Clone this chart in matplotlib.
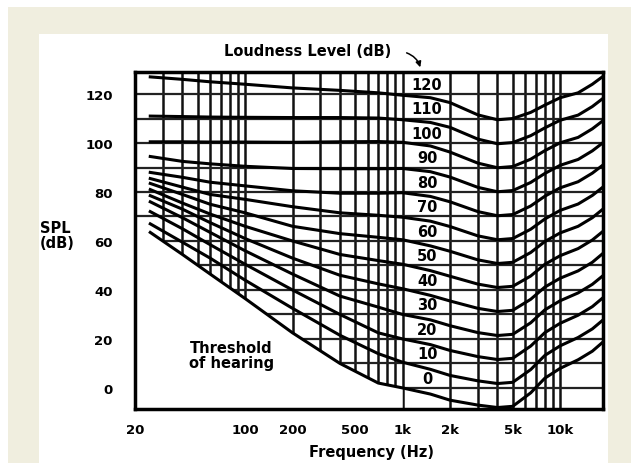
import matplotlib
matplotlib.use("Agg")
from matplotlib import pylab as plt
from matplotlib.patches import Rectangle, Polygon

plt.rcParams['font.family'] = 'DejaVu Sans'
plt.rcParams['font.weight'] = 'bold'

# equal loudness contours, SPL (dB) at each frequency (Hz)
freqs = [25, 40, 60, 100, 200, 400, 700, 1000, 1500, 2000, 3000, 4000, 5000,
         6500, 8000, 10000, 13000, 16000, 18500]

phon_0 = [63.5, 54.5, 46.5, 36.5, 22.5, 10, 2, 0, -2.5, -5, -7, -8, -7.5, -2, 4, 8, 11.5, 15, 18.5]
phon_10 = [67, 59.5, 53, 44, 32.5, 21.5, 14, 10.5, 7.6, 5.1, 2.9, 1.8, 2.3, 7.5, 13.3, 17.2, 20.6, 24.1, 27.5]
phon_20 = [72, 65, 58.5, 50.5, 40, 30, 22.5, 20, 17.7, 15.3, 12.8, 11.6, 12.1, 17.1, 22.6, 26.4, 29.7, 33.2, 36.6]
phon_30 = [76, 69.5, 63.5, 56, 46.5, 37.5, 33, 30, 27.8, 25.4, 22.6, 21.4, 21.9, 26.6, 31.9, 35.6, 38.8, 42.3, 45.6]
phon_40 = [78.5, 73, 67.5, 61, 53, 46, 42.5, 40.5, 37.8, 35.5, 32.5, 31.2, 31.7, 36.2, 41.2, 44.8, 47.8, 51.3, 54.7]
phon_50 = [81, 75.5, 71, 66, 60, 54.5, 52, 50.5, 47.9, 45.6, 42.4, 41, 41.5, 45.7, 50.5, 54, 56.9, 60.4, 63.7]
phon_60 = [83.5, 79, 75, 71.5, 66, 63, 61.5, 60.5, 58, 55.8, 52.3, 50.8, 51.3, 55.3, 59.8, 63.3, 66, 69.5, 72.8]
phon_70 = [85.5, 82, 79, 77, 74, 71.5, 70.5, 69.7, 68.1, 65.9, 62.1, 60.5, 61, 64.8, 69, 72.5, 75.1, 78.6, 81.8]
phon_80 = [88, 86, 84, 82.5, 80.5, 79.5, 79.5, 79.7, 78.2, 76, 72, 70.3, 70.8, 74.3, 78.3, 81.7, 84.2, 87.7, 90.8]
phon_90 = [94.5, 92.5, 91.5, 90.5, 89.6, 89.5, 89.5, 89.6, 88.3, 86.1, 81.9, 80.1, 80.6, 83.9, 87.6, 90.9, 93.3, 96.8, 99.9]
phon_100 = [100.5, 100.5, 100.4, 100.4, 100.3, 100.5, 100.6, 100.3, 98.8, 96.3, 91.8, 89.9, 90.4, 93.4, 96.9, 100.1, 102.3, 105.8, 108.9]
phon_110 = [111, 110.8, 110.6, 110.5, 110.4, 110.4, 110.2, 109.5, 108.4, 106.4, 101.6, 99.7, 100.2, 103, 106.2, 109.3, 111.4, 114.9, 118]
phon_120 = [127, 126, 125, 124, 122.5, 121.5, 120.5, 119.5, 118.5, 116.5, 111.5, 109.5, 110, 112.5, 115.5, 118.5, 120.5, 124, 127]

levels = [0, 10, 20, 30, 40, 50, 60, 70, 80, 90, 100, 110, 120]
contours = [phon_0, phon_10, phon_20, phon_30, phon_40, phon_50, phon_60,
            phon_70, phon_80, phon_90, phon_100, phon_110, phon_120]

x_ticks = [20, 100, 200, 500, 1000, 2000, 5000, 10000]
x_labels = ['20', '100', '200', '500', '1k', '2k', '5k', '10k']
y_ticks = [0, 20, 40, 60, 80, 100, 120]

W, H = 631, 464
fmin, fmax = 20, 18700
ymin, ymax = -8.6, 129

fig = plt.figure(figsize=(W / 100, H / 100), dpi=100, facecolor='white')

# beige frame with a white card on top
fig.add_artist(Rectangle((8 / W, 0), 1 - 8 / W, (H - 8) / H, transform=fig.transFigure,
                         facecolor='#f0eedf', edgecolor='none', zorder=0))
fig.add_artist(Rectangle((39 / W, 0), (608 - 39) / W, (H - 35) / H, transform=fig.transFigure,
                         facecolor='white', edgecolor='none', zorder=0))

ax = fig.add_axes([135 / W, 1 - 410 / H, (603 - 135) / W, (410 - 73) / H])
ax.set_facecolor('white')
ax.set_xscale('log')
ax.set_xlim(fmin, fmax)
ax.set_ylim(ymin, ymax)

# graph paper only above the threshold curve (up to 1 kHz), full below that on the right
low = [(f, v) for f, v in zip(freqs, phon_0) if f <= 1000]
outline = [(fmin, ymax), (fmin, 66)] + low + [(1000, ymin), (fmax, ymin), (fmax, ymax)]
paper = Polygon(outline, closed=True, transform=ax.transData, facecolor='none', edgecolor='none')
ax.add_patch(paper)

grid_f = [m * 10 ** e for e in (1, 2, 3, 4) for m in range(1, 10)]
grid_f = [f for f in grid_f if fmin < f < fmax]
vl = ax.vlines(grid_f, ymin, ymax, color='#111111', lw=1.8, zorder=1)
hl = ax.hlines(range(0, 121, 10), fmin, fmax, color='#222222', lw=1.6, zorder=1)
vl.set_clip_path(paper)
hl.set_clip_path(paper)

for lev, spl in zip(levels, contours):
    ax.plot(freqs, spl, color='black', lw=2.2, zorder=3)
    ax.text(1430, lev + 4, str(lev), ha='center', va='center', fontsize=10.5,
            fontweight='bold', zorder=4)

for s in ax.spines.values():
    s.set_linewidth(2.5)
    s.set_color('black')

ax.set_xticks(x_ticks)
ax.set_xticklabels(x_labels)
ax.xaxis.set_minor_locator(matplotlib.ticker.NullLocator())
ax.set_yticks(y_ticks)
ax.tick_params(axis='both', length=0, labelsize=9.5)
ax.tick_params(axis='x', pad=10)
ax.tick_params(axis='y', pad=16)
for lab in ax.get_xticklabels() + ax.get_yticklabels():
    lab.set_fontweight('bold')

fig.text(308 / W, 1 - 52 / H, 'Loudness Level (dB)', ha='center', va='center',
         fontsize=10.5, fontweight='bold')
ax.annotate('', xy=(421 / W, 1 - 71 / H), xytext=(404 / W, 1 - 53 / H),
            xycoords='figure fraction', textcoords='figure fraction',
            arrowprops=dict(arrowstyle='-|>', color='black', lw=1.1, mutation_scale=8,
                            connectionstyle='arc3,rad=-0.3'))

fig.text(40 / W, 1 - 236 / H, 'SPL\n(dB)', ha='left', va='center', fontsize=10.5,
         fontweight='bold', linespacing=0.95)
fig.text(371 / W, 1 - 453 / H, 'Frequency (Hz)', ha='center', va='center',
         fontsize=10.5, fontweight='bold')
fig.text(232 / W, 1 - 356 / H, 'Threshold\nof hearing', ha='center', va='center',
         fontsize=10.5, fontweight='bold', linespacing=1.05, multialignment='left')

fig.savefig('out.png', dpi=100, facecolor=fig.get_facecolor())
